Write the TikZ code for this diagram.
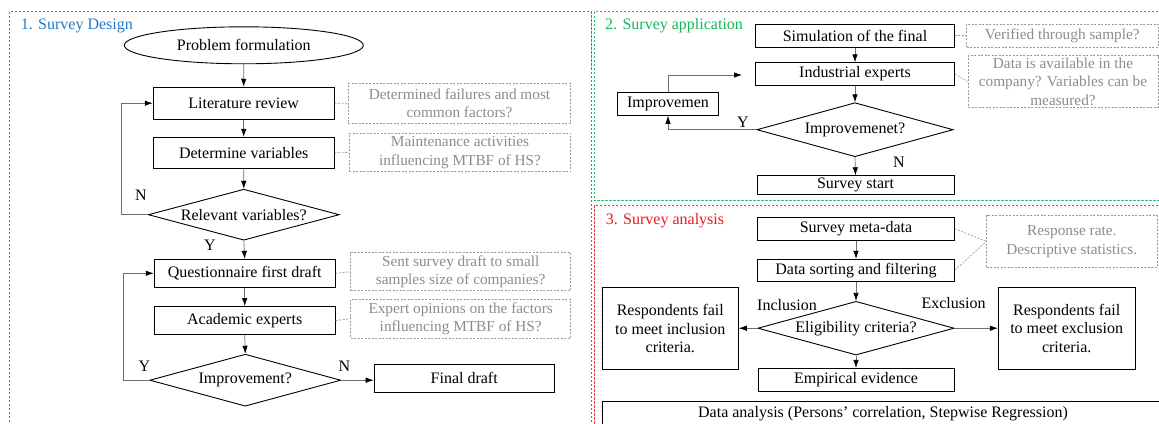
\documentclass[tikz,border=0pt]{standalone}
\usepackage{fontspec}
\setmainfont{Liberation Serif}
\usetikzlibrary{shapes.geometric,arrows.meta,calc}
\definecolor{bluet}{HTML}{1F7DCB}
\definecolor{greent}{HTML}{12B85A}
\definecolor{redt}{HTML}{F01818}
\definecolor{bluef}{HTML}{1E88E5}
\definecolor{greenf}{HTML}{22C272}
\definecolor{redf}{HTML}{FF2A2A}
\definecolor{notetext}{HTML}{8C8C8C}
\definecolor{noteline}{HTML}{9A9A9A}
\definecolor{conn}{HTML}{6E6E6E}
\begin{document}
\begin{tikzpicture}[x=1pt,y=-1pt,
  box/.style={draw=black, line width=0.9pt, inner sep=0pt, align=center,
    font=\fontsize{16}{18.5}\selectfont},
  dia/.style={draw=black, shape=diamond, aspect=3.7, inner sep=0pt, line width=0.9pt,
    font=\fontsize{16}{18.5}\selectfont},
  oval/.style={draw=black, shape=ellipse, inner sep=0pt, line width=0.9pt,
    font=\fontsize{16}{18.5}\selectfont},
  note/.style={draw=noteline, dash pattern=on 2pt off 1.5pt, line width=0.7pt, text=notetext,
    inner sep=0pt, align=center, font=\fontsize{15.3}{18.5}\selectfont},
  arr/.style={draw=conn, line width=0.7pt, -{Latex[length=8pt,width=5.5pt,color=black]}},
  link/.style={draw=noteline, dash pattern=on 2pt off 1.5pt, line width=0.7pt},
  lbl/.style={inner sep=0pt, font=\fontsize{16}{18}\selectfont},
  ttl/.style={inner sep=0pt, anchor=west, font=\fontsize{16}{18}\selectfont},
  frame/.style={line width=0.9pt, dash pattern=on 2.5pt off 1.5pt}
]
\useasboundingbox (0,0) rectangle (1159,423);
\clip (0,0) rectangle (1159,423);
\fill[white] (0,0) rectangle (1159,423);

% panels
\draw[frame, draw=bluef] (9.3,11.7) rectangle (591,440);
\draw[frame, draw=greenf] (594,11.7) rectangle (1175,200.7);
\draw[frame, draw=redf] (594,205) rectangle (1175,440);

% ---------- Panel 1 ----------
\node[ttl, text=bluet] (t1) at (20.7,26) {1. Survey Design};
\node[oval, minimum width=239, minimum height=37] (pf) at (243.8,45.3) {Problem formulation};
\node[box, minimum width=181, minimum height=32] (lit) at (243.7,103.2) {Literature review};
\node[box, minimum width=181, minimum height=31] (detv) at (243.7,152.8) {Determine variables};
\node[dia, minimum width=191, minimum height=51] (relv) at (243.8,214.7) {Relevant variables?};
\node[box, minimum width=181, minimum height=28] (quest) at (244.7,273.3) {Questionnaire first draft};
\node[box, minimum width=181, minimum height=28] (acad) at (244.7,320.5) {Academic experts};
\node[dia, minimum width=191, minimum height=52] (imp1) at (245.3,380.2) {Improvement?};
\node[box, minimum width=180.3, minimum height=28] (final) at (464.2,378.3) {Final draft};

\node[note, minimum width=222.4, minimum height=40] (n1) at (459.5,103.3) {Determined failures and most\\common factors?};
\node[note, minimum width=221.4, minimum height=38.4] (n2) at (460,152.5) {Maintenance activities\\influencing MTBF of HS?};
\node[note, minimum width=220, minimum height=38] (n3) at (460.7,271.7) {Sent survey draft to small\\samples size of companies?};
\node[note, minimum width=220, minimum height=39] (n4) at (460.7,318.8) {Expert opinions on the factors\\influencing MTBF of HS?};

\draw[arr] (pf.south) -- (lit.north);
\draw[arr] (lit.south) -- (detv.north);
\draw[arr] (detv.south) -- (relv.north);
\draw[arr] (relv.west) -| ([xshift=-31.5pt]lit.west) -- (lit.west);
\draw[arr] (relv.south) -- (quest.north);
\draw[arr] (quest.south) -- (acad.north);
\draw[arr] (acad.south) -- (imp1.north);
\draw[arr] (imp1.west) -| ([xshift=-30.3pt]quest.west) -- (quest.west);
\draw[arr] (imp1.east) -- (imp1.east -| final.west);
\draw[link] (lit.east) -- (n1.west);
\draw[link] (detv.east) -- (n2.west);
\draw[link] (quest.east) -- (n3.west);
\draw[link] (acad.east) -- (n4.west);

\node[lbl] (lN1) at (141,195) {N};
\node[lbl] (lY1) at (210,245) {Y};
\node[lbl] (lY2) at (144.3,366) {Y};
\node[lbl] (lN2) at (344.3,366) {N};

% ---------- Panel 2 ----------
\node[ttl, text=greent] (t2) at (605,26) {2. Survey application};
\node[box, minimum width=198.6, minimum height=23.3] (sim) at (855,35.7) {Simulation of the final};
\node[box, minimum width=198.6, minimum height=22.6] (ind) at (855,74) {Industrial experts};
\node[box, minimum width=100.6, minimum height=22.6] (impb) at (668,104) {Improvemen};
\node[dia, minimum width=196.3, minimum height=54] (imp2) at (855,129.7) {Improvemenet?};
\node[box, minimum width=197, minimum height=18.5] (surv) at (855.5,185) {Survey start};
\node[note, minimum width=191.3, minimum height=23.3] (n5) at (1062.3,35.7) {Verified through sample?};
\node[note, minimum width=190, minimum height=51.6] (n6) at (1063,81.5) {Data is available in the\\company? Variables can be\\measured?};
\coordinate (indgap) at (742,75);

\draw[arr] (sim.south) -- (ind.north);
\draw[arr] (ind.south) -- (imp2.north);
\draw[arr] (imp2.south) -- (surv.north);
\draw[arr] (imp2.west) -| (impb.south);
\draw[arr] (impb.north) |- (indgap);
\draw[link] (sim.east) -- (n5.west);
\draw[link] (ind.east) -- (n6.west);
\node[lbl] (lY3) at (743,122) {Y};
\node[lbl] (lN3) at (899,162) {N};

% ---------- Panel 3 ----------
\node[ttl, text=redt] (t3) at (605.7,220.7) {3. Survey analysis};
\node[box, minimum width=196.6, minimum height=22.7] (meta) at (856,228.7) {Survey meta-data};
\node[box, minimum width=196.6, minimum height=22] (sort) at (856,270.3) {Data sorting and filtering};
\node[dia, minimum width=196.3, minimum height=53.7] (elig) at (856,328.2) {Eligibility criteria?};
\node[box, minimum width=136, minimum height=81.6] (lbox) at (670.3,328.5) {Respondents fail\\to meet inclusion\\criteria.};
\node[box, minimum width=136.7, minimum height=82] (rbox) at (1066.7,328.3) {Respondents fail\\to meet exclusion\\criteria.};
\node[box, minimum width=196, minimum height=22.7] (emp) at (856,379.7) {Empirical evidence};
\node[box, minimum width=562, minimum height=23] (data) at (883,413.2) {Data analysis (Persons' correlation, Stepwise Regression)};
\node[note, minimum width=170.3, minimum height=51.6] (n7) at (1071.8,241.5) {Response rate.\\Descriptive statistics.};

\draw[arr] (meta.south) -- (sort.north);
\draw[arr] (sort.south) -- (elig.north);
\draw[arr] (elig.west) -- (lbox.east |- elig.west);
\draw[arr] (elig.east) -- (rbox.west |- elig.east);
\draw[arr] (elig.south) -- (emp.north);
\draw[link] (meta.east) -- (n7.west);
\draw[link] (sort.east) -- (n7.west);
\node[lbl] (lInc) at (787,305) {Inclusion};
\node[lbl] (lExc) at (953.5,303) {Exclusion};
\end{tikzpicture}
\end{document}
